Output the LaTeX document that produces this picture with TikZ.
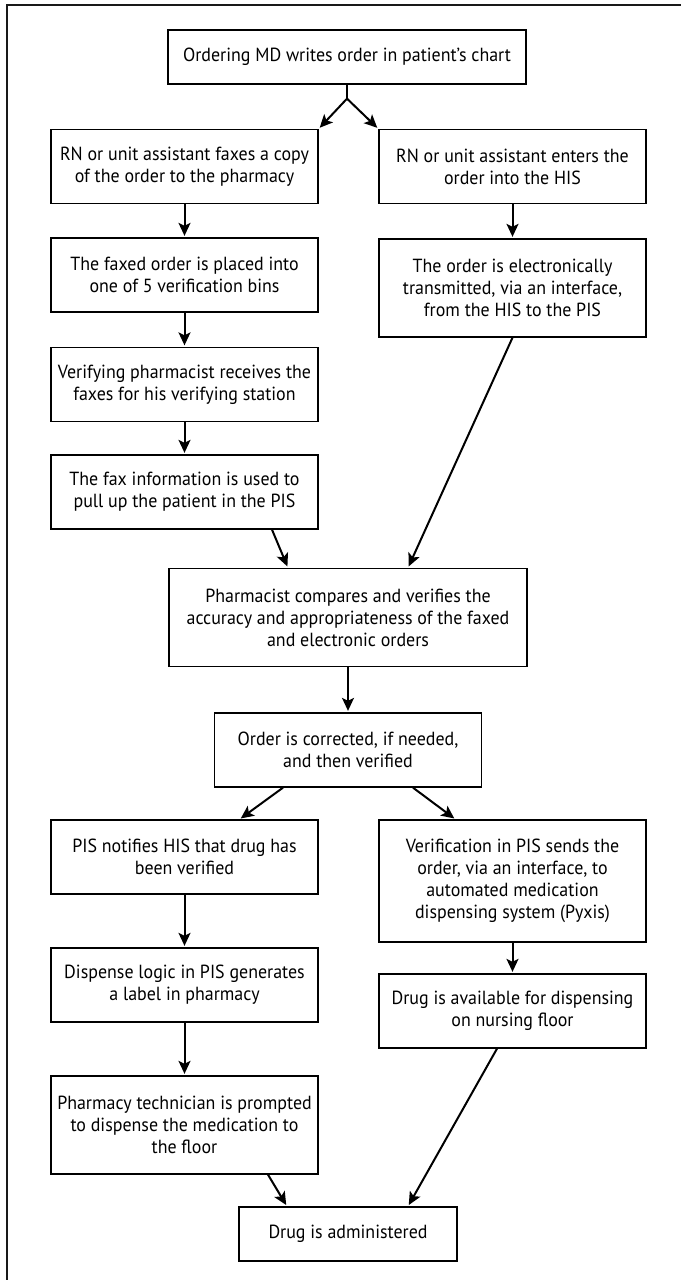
\documentclass[tikz,border=0pt]{standalone}
\usepackage{fontspec}
\usetikzlibrary{arrows.meta}
\newfontfamily\probefont{PT Sans}
\newlength\probelen
\settowidth\probelen{\probefont\fontsize{19}{22}\selectfont Ordering MD writes order in patient’s chart}
\edef\stretchratio{\fpeval{round(328pt/\probelen,3)}}
\edef\tmpsetfont{\noexpand\setmainfont[FakeStretch=\stretchratio]{PT Sans}}
\tmpsetfont
\tikzset{
  box/.style={draw=black, line width=1.3pt, rectangle, inner sep=0pt, align=center,
    minimum width=267pt, font=\fontsize{19}{22}\selectfont},
  one/.style={minimum height=54pt},
  two/.style={minimum height=74pt},
  three/.style={minimum height=98pt},
  four/.style={minimum height=122pt},
  wide/.style={minimum width=358pt},
  arr/.style={line width=2pt, -{Stealth[length=13pt,width=12pt,inset=3pt]}, shorten >=1.5pt},
  frame/.style={line width=1.6pt, draw=black!90}
}
\begin{document}
\begin{tikzpicture}[x=1pt,y=-1pt]
\useasboundingbox (0,0) rectangle (681,1280);
\draw[frame] (7,1280) -- (7,5) -- (681,5);

\node[box,one,wide] (n1) at (347,57) {Ordering MD writes order in patient’s chart};
\node[box,two] (l1) at (184.5,166.5) {RN or unit assistant faxes a copy\\of the order to the pharmacy};
\node[box,two] (r1) at (512.5,166.5) {RN or unit assistant enters the\\order into the HIS};
\node[box,two] (l2) at (184.5,275) {The faxed order is placed into\\one of 5 verification bins};
\node[box,three] (r2) at (512.5,288) {The order is electronically\\transmitted, via an interface,\\from the HIS to the PIS};
\node[box,two] (l3) at (184.5,384.5) {Verifying pharmacist receives the\\faxes for his verifying station};
\node[box,two] (l4) at (184.5,492) {The fax information is used to\\pull up the patient in the PIS};
\node[box,three,wide] (mid) at (348,617.5) {Pharmacist compares and verifies the\\accuracy and appropriateness of the faxed\\and electronic orders};
\node[box,two] (ord) at (348,750) {Order is corrected, if needed,\\and then verified};
\node[box,two] (l5) at (184.5,857) {PIS notifies HIS that drug has\\been verified};
\node[box,four] (r5) at (512.5,881) {Verification in PIS sends the\\order, via an interface, to\\automated medication\\dispensing system (Pyxis)};
\node[box,two] (l6) at (184.5,985) {Dispense logic in PIS generates\\a label in pharmacy};
\node[box,two] (r6) at (512.5,1011) {Drug is available for dispensing\\on nursing floor};
\node[box,three] (l7) at (184.5,1125) {Pharmacy technician is prompted\\to dispense the medication to\\the floor};
\node[box,one,minimum width=218pt] (fin) at (348,1234) {Drug is administered};

\coordinate (fork) at ([yshift=-14pt]n1.south);
\draw[line width=2pt] (n1.south) -- (fork);
\draw[arr] (fork) -- (l1.north east);
\draw[arr] (fork) -- (r1.north west);
\draw[arr] (l1) -- (l2);
\draw[arr] (r1) -- (r2);
\draw[arr] (l2) -- (l3);
\draw[arr] (l3) -- (l4);
\draw[arr] ([xshift=87.5pt]l4.south) -- ([xshift=-60pt]mid.north);
\draw[arr] (r2.south) -- ([xshift=60pt]mid.north);
\draw[arr] (mid) -- (ord);
\draw[arr] ([xshift=-65pt]ord.south) -- ([xshift=55pt]l5.north);
\draw[arr] ([xshift=65pt]ord.south) -- ([xshift=-57pt]r5.north);
\draw[arr] (l5) -- (l6);
\draw[arr] (l6) -- (l7);
\draw[arr] (r5) -- (r6);
\draw[arr] ([xshift=83.5pt]l7.south) -- ([xshift=-61pt]fin.north);
\draw[arr] ([xshift=-15.5pt]r6.south) -- ([xshift=60pt]fin.north);
\end{tikzpicture}
\end{document}
